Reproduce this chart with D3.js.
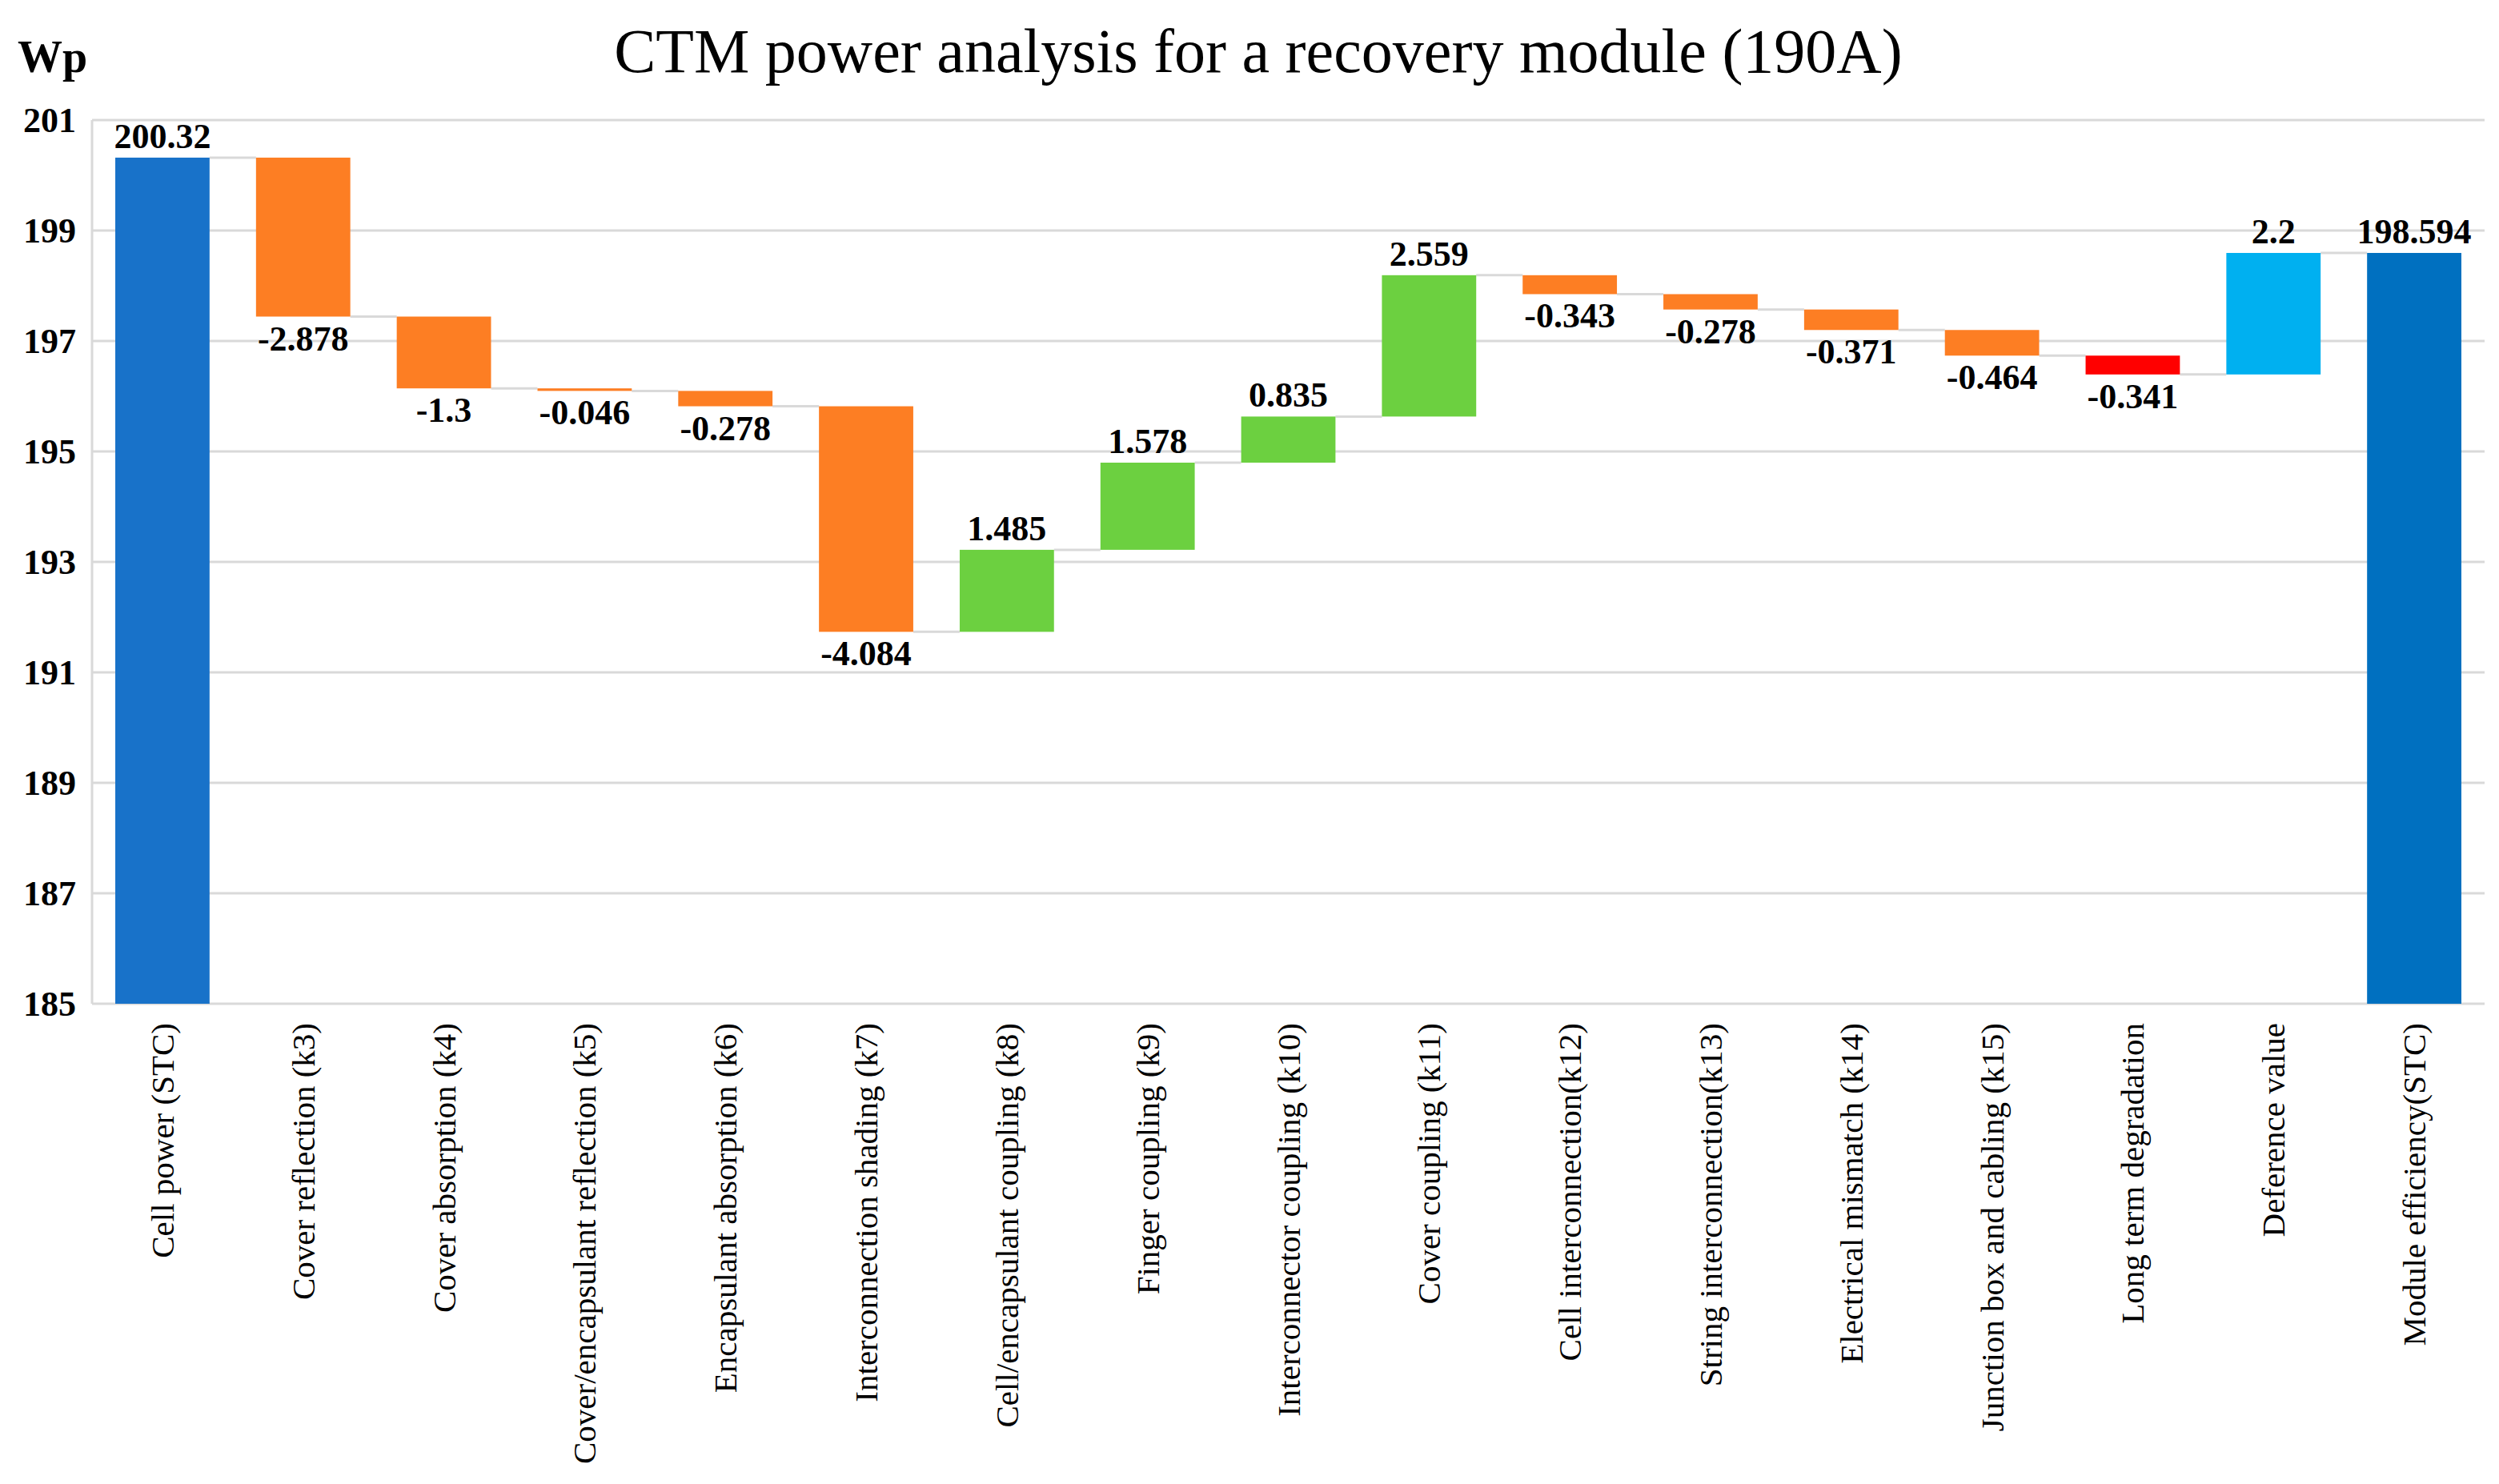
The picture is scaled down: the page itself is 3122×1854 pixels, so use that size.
<!DOCTYPE html>
<html>
<head>
<meta charset="utf-8">
<script src="https://cdn.jsdelivr.net/npm/d3@7"></script>
<style>
  body { margin: 0; background: #fff; }
  text { font-family: "Liberation Serif", "Times New Roman", serif; }
</style>
</head>
<body>
<div id="chart"></div>
<script>
// chart data
var categories = ["Cell power (STC)", "Cover reflection (k3)", "Cover absorption (k4)",
    "Cover/encapsulant reflection (k5)", "Encapsulant absorption (k6)", "Interconnection shading (k7)",
    "Cell/encapsulant coupling (k8)", "Finger coupling (k9)", "Interconnector coupling (k10)",
    "Cover coupling (k11)", "Cell interconnection(k12)", "String interconnection(k13)",
    "Electrical mismatch (k14)", "Junction box and cabling (k15)", "Long term degradation",
    "Deference value", "Module efficiency(STC)"];
var values = [200.32, -2.878, -1.3, -0.046, -0.278, -4.084, 1.485, 1.578, 0.835, 2.559,
    -0.343, -0.278, -0.371, -0.464, -0.341, 2.2, 198.594];
var kinds = ["total", "loss", "loss", "loss", "loss", "loss", "gain", "gain", "gain", "gain",
    "loss", "loss", "loss", "loss", "degrade", "diff", "final"];
var yTicks = [185, 187, 189, 191, 193, 195, 197, 199, 201];

var colors = {
    total: "#1872c9",
    loss: "#fd7e23",
    gain: "#6cd040",
    degrade: "#ff0000",
    diff: "#00b0f0",
    final: "#0070c0"
};

var svgWidth = 3122;
var svgHeight = 1854;
var margin = { top: 150, right: 18, bottom: 600, left: 115 };
var width = svgWidth - margin.left - margin.right;
var height = svgHeight - margin.top - margin.bottom;

var svg = d3.select("#chart")
    .append("svg")
    .attr("width", svgWidth)
    .attr("height", svgHeight);

var chartGroup = svg.append("g")
    .attr("transform", `translate(${margin.left}, ${margin.top})`);

// build waterfall segments
var running = 0;
var bars = values.map(function(v, i) {
    var d = { name: categories[i], value: v, kind: kinds[i] };
    if (kinds[i] === "total" || kinds[i] === "final") {
        d.start = 185;
        d.end = v;
        running = v;
    } else {
        d.start = running;
        d.end = running + v;
        running = d.end;
    }
    return d;
});

var xBandScale = d3.scaleBand()
    .domain(categories)
    .range([0, width])
    .paddingInner(0.33)
    .paddingOuter(0.165);

var yLinearScale = d3.scaleLinear()
    .domain([185, 201])
    .range([height, 0]);

// gridlines
chartGroup.append("g")
    .selectAll("line")
    .data(yTicks)
    .enter()
    .append("line")
    .attr("x1", 0)
    .attr("x2", width)
    .attr("y1", d => yLinearScale(d))
    .attr("y2", d => yLinearScale(d))
    .attr("stroke", "#d9d9d9")
    .attr("stroke-width", 3);

// left border
chartGroup.append("line")
    .attr("x1", 0).attr("x2", 0)
    .attr("y1", 0).attr("y2", height)
    .attr("stroke", "#d9d9d9")
    .attr("stroke-width", 3);

// y axis labels
var leftAxis = d3.axisLeft(yLinearScale).tickValues(yTicks).tickSize(0).tickPadding(20);
var yAxis = chartGroup.append("g").call(leftAxis);
yAxis.select(".domain").remove();
yAxis.selectAll("text")
    .attr("font-family", "Liberation Serif")
    .attr("font-size", 44)
    .attr("font-weight", "bold")
    .attr("fill", "#000");

// connectors
chartGroup.append("g")
    .selectAll("line")
    .data(bars.slice(0, bars.length - 1))
    .enter()
    .append("line")
    .attr("x1", (d, i) => xBandScale(categories[i]) + xBandScale.bandwidth())
    .attr("x2", (d, i) => xBandScale(categories[i + 1]))
    .attr("y1", d => yLinearScale(d.end))
    .attr("y2", d => yLinearScale(d.end))
    .attr("stroke", "#d9d9d9")
    .attr("stroke-width", 3);

// bars
chartGroup.append("g")
    .selectAll("rect")
    .data(bars)
    .enter()
    .append("rect")
    .attr("x", d => xBandScale(d.name))
    .attr("width", xBandScale.bandwidth())
    .attr("y", d => yLinearScale(Math.max(d.start, d.end)))
    .attr("height", d => Math.abs(yLinearScale(d.start) - yLinearScale(d.end)))
    .attr("fill", d => colors[d.kind]);

// value labels
chartGroup.append("g")
    .selectAll("text")
    .data(bars)
    .enter()
    .append("text")
    .attr("x", d => xBandScale(d.name) + xBandScale.bandwidth() / 2)
    .attr("y", function(d) {
        if (d.value < 0) return yLinearScale(d.end) + 42;
        return yLinearScale(Math.max(d.start, d.end)) - 12;
    })
    .attr("text-anchor", "middle")
    .attr("font-size", 44)
    .attr("font-weight", "bold")
    .attr("fill", "#000")
    .text(d => d.value);

// x labels (rotated)
chartGroup.append("g")
    .selectAll("text")
    .data(categories)
    .enter()
    .append("text")
    .attr("transform", d => `translate(${xBandScale(d) + xBandScale.bandwidth() / 2 + 14}, ${height + 24}) rotate(-90)`)
    .attr("text-anchor", "end")
    .attr("font-size", 41)
    .attr("fill", "#000")
    .text(d => d);

// title and unit
svg.append("text")
    .attr("x", 1572)
    .attr("y", 90)
    .attr("text-anchor", "middle")
    .attr("font-size", 78)
    .attr("fill", "#000")
    .text("CTM power analysis for a recovery module (190A)");

svg.append("text")
    .attr("x", 22)
    .attr("y", 90)
    .attr("font-size", 56)
    .attr("font-weight", "bold")
    .attr("fill", "#000")
    .text("Wp");
</script>
</body>
</html>
